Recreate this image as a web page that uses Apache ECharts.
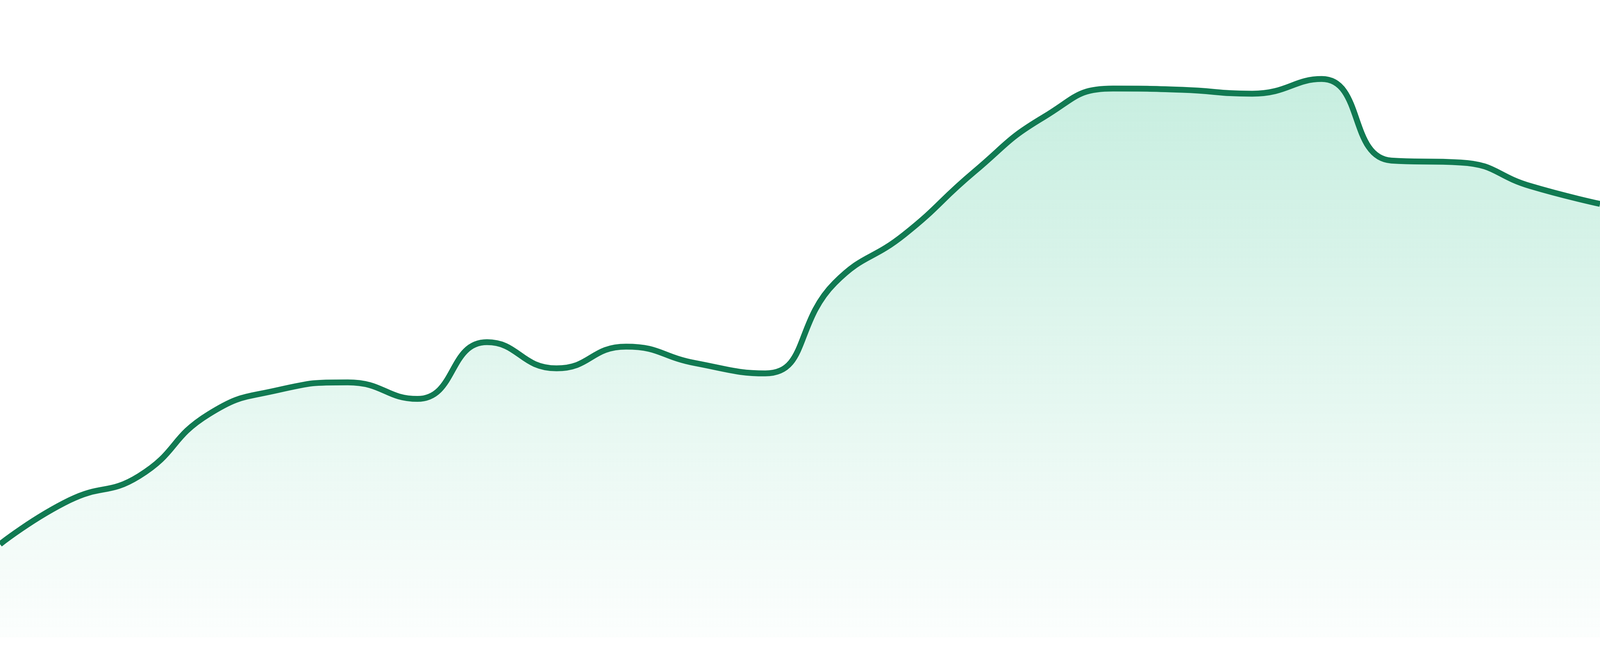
<!DOCTYPE html>
<html>
<head>
<meta charset="utf-8">
<script src="https://cdn.jsdelivr.net/npm/echarts@6/dist/echarts.min.js"></script>
<style>
  html, body { margin: 0; padding: 0; background: #fff; width: 100%; height: 100%; overflow: hidden; }
  #chart { width: 100vw; height: 100vh; }
</style>
</head>
<body>
<div id="chart"></div>
<script>
// 24 points
var days = ['1','2','3','4','5','6','7','8','9','10','11','12',
            '13','14','15','16','17','18','19','20','21','22','23','24'];
var values = [14.6, 21.5, 25.3, 35.0, 38.8, 40.0, 37.4, 46.3, 42.2, 45.6, 43.0, 41.4,
              55.6, 63.2, 73.0, 81.6, 86.1, 85.9, 85.3, 87.6, 74.8, 74.5, 70.8, 68.0];

var myChart = echarts.init(document.getElementById('chart'));

var option = {
    animation: false,
    grid: { left: 0, right: 0, top: 0, bottom: '2.86%' },
    xAxis: {
        type: 'category',
        boundaryGap: false,
        data: days,
        show: false
    },
    yAxis: {
        type: 'value',
        min: 0,
        max: 100,
        show: false
    },
    series: [
        {
            type: 'line',
            data: values,
            smooth: true,
            symbol: 'none',
            lineStyle: { color: '#117a52', width: 15 },
            areaStyle: {
                color: new echarts.graphic.LinearGradient(0, 0, 0, 1, [
                    { offset: 0, color: 'rgba(20,184,124,0.34)' },
                    { offset: 1, color: 'rgba(20,184,124,0.02)' }
                ])
            }
        }
    ]
};

myChart.setOption(option);
</script>
</body>
</html>
